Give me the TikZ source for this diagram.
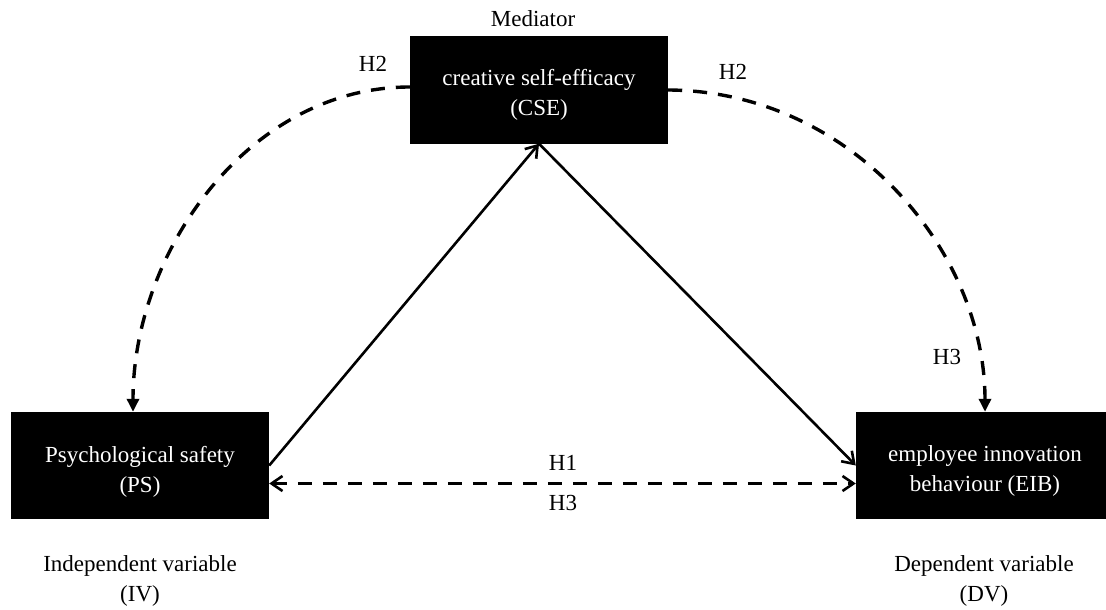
\documentclass[tikz,border=0pt]{standalone}
\usepackage{fontspec}
\setmainfont{Liberation Serif}
\usetikzlibrary{arrows.meta}

\begin{document}
\begin{tikzpicture}[x=1pt, y=-1pt,
  varbox/.style={rectangle, fill=black, minimum width=258pt, minimum height=107pt, inner sep=0pt},
  boxtext/.style={align=center, text=white},
  plain/.style={align=center, text=black},
  solidarr/.style={line width=2.6pt, -{Straight Barb[length=11pt, width=15pt, line width=2.6pt]}},
  dasharr/.style={line width=3.4pt, dash pattern=on 14pt off 11pt, -{Triangle[length=13pt, width=12pt]}},
  every node/.style={font=\fontsize{23}{30}\selectfont}]
  \useasboundingbox (0,0) rectangle (1106,610);

  % The three variables
  \node[varbox] (cse) at (539,90) {};
  \node[boxtext] (csetext) at ([yshift=-5pt]cse.center) {creative self-efficacy\\(CSE)};
  \node[varbox] (ps) at (140,465.5) {};
  \node[boxtext] (pstext) at ([yshift=-6pt]ps.center) {Psychological safety\\(PS)};
  \node[varbox] (eib) at (985,465.5) {};
  \node[boxtext] (eibtext) at ([yshift=-5pt]eib.center) {employee innovation\\behaviour (EIB)};

  % Roles
  \node[plain] (med) at (533,19) {Mediator};
  \node[plain] (iv) at (140,581) {Independent variable\\(IV)};
  \node[plain] (dv) at (984,581) {Dependent variable\\(DV)};

  % Direct paths through the mediator
  \draw[solidarr] (ps.east) -- (cse.south);
  \draw[solidarr] (cse.south) -- (eib.west);

  % Indirect paths - dashed arcs
  \draw[dasharr] ([yshift=3pt]cse.west) .. controls (250,87) and (133,250) .. ([xshift=-7pt]ps.north);
  \draw[dasharr] (cse.east) .. controls (850,91) and (985,250) .. (eib.north);

  % Total effect
  \draw[line width=3.4pt, dash pattern=on 14pt off 11pt, {Straight Barb[length=11pt, width=15pt, line width=2.6pt]}-{Straight Barb[length=11pt, width=15pt, line width=2.6pt]}]
    ([yshift=-18pt]ps.east) -- ([yshift=-18pt]eib.west);

  % Hypothesis labels
  \node[plain] (h2a) at (373,64) {H2};
  \node[plain] (h2b) at (733,72) {H2};
  \node[plain] (h3a) at (947,357) {H3};
  \node[plain] (h1) at (563,463) {H1};
  \node[plain] (h3b) at (563,503) {H3};
\end{tikzpicture}
\end{document}
